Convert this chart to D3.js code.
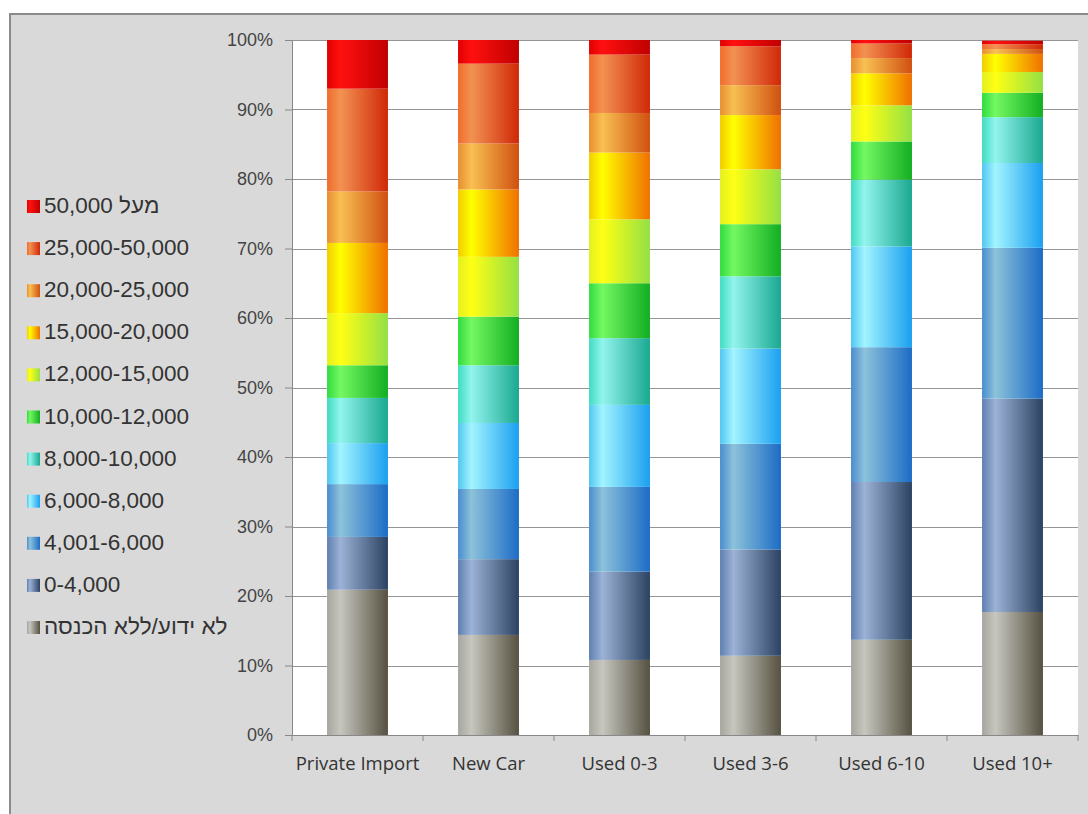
<!DOCTYPE html>
<html>
<head>
<meta charset="utf-8">
<script src="https://cdn.jsdelivr.net/npm/d3@7"></script>
<style>
html,body{margin:0;padding:0;background:#fff;}
svg{display:block;}
</style>
</head>
<body>
<svg id="chart" width="1088" height="814"></svg>
<script>
// ---------- data ----------
const categories = ["Private Import", "New Car", "Used 0-3", "Used 3-6", "Used 6-10", "Used 10+"];
const seriesNames = ["לא ידוע/ללא הכנסה", "0-4,000", "4,001-6,000", "6,000-8,000", "8,000-10,000",
  "10,000-12,000", "12,000-15,000", "15,000-20,000", "20,000-25,000", "25,000-50,000", "מעל 50,000"];
const unknownIncome = [20.9, 14.4, 10.8, 11.4, 13.7, 17.7];
const inc0_4000     = [7.6, 10.9, 12.7, 15.3, 22.7, 30.7];
const inc4001_6000  = [7.6, 10.1, 12.2, 15.2, 19.4, 21.7];
const inc6000_8000  = [5.9, 9.5, 11.8, 13.7, 14.5, 12.2];
const inc8000_10000 = [6.5, 8.3, 9.6, 10.4, 9.6, 6.6];
const inc10000_12000= [4.7, 7.0, 7.9, 7.5, 5.5, 3.5];
const inc12000_15000= [7.5, 8.6, 9.2, 7.9, 5.2, 3.0];
const inc15000_20000= [10.1, 9.7, 9.6, 7.8, 4.6, 2.6];
const inc20000_25000= [7.4, 6.6, 5.7, 4.3, 2.2, 0.7];
const inc25000_50000= [14.8, 11.5, 8.4, 5.6, 2.1, 0.7];
const over50000     = [7.0, 3.4, 2.1, 0.9, 0.5, 0.5];
const seriesValues = [unknownIncome, inc0_4000, inc4001_6000, inc6000_8000, inc8000_10000,
  inc10000_12000, inc12000_15000, inc15000_20000, inc20000_25000, inc25000_50000, over50000];
const yTicks = [0, 10, 20, 30, 40, 50, 60, 70, 80, 90, 100];

// gradient colours per series: [left, highlight, right]
const seriesColors = [
  ["#a6a59e", "#c6c6bf", "#565140"],
  ["#5f7fb0", "#9cb2d6", "#2b4262"],
  ["#4a8ccf", "#8cc2da", "#1c6cc6"],
  ["#50c6f0", "#a2f4ff", "#1a9ff0"],
  ["#40dcc0", "#92f4ee", "#1aa890"],
  ["#30dc40", "#74f862", "#12ae22"],
  ["#e2f020", "#ffff14", "#94e044"],
  ["#f2cc00", "#ffff00", "#f07000"],
  ["#e88e30", "#f8c052", "#d05010"],
  ["#f06c2c", "#f29252", "#d02808"],
  ["#e00000", "#ff1010", "#c00000"]
];

// ---------- layout ----------
const svg = d3.select("#chart");
const plot = {left: 292, right: 1078, top: 40, bottom: 735};

const defs = svg.append("defs");
seriesColors.forEach((c, i) => {
  const g = defs.append("linearGradient").attr("id", "g" + i)
    .attr("x1", "0%").attr("x2", "100%").attr("y1", "0%").attr("y2", "0%");
  g.append("stop").attr("offset", "0%").attr("stop-color", c[0]);
  g.append("stop").attr("offset", "22%").attr("stop-color", c[1]);
  g.append("stop").attr("offset", "100%").attr("stop-color", c[2]);
});

// panel
svg.append("rect").attr("x", 10).attr("y", 14).attr("width", 1100).attr("height", 820)
  .attr("fill", "#d9d9d9").attr("stroke", "#8a8a8a").attr("stroke-width", 2);

// plot area
svg.append("rect").attr("x", plot.left).attr("y", plot.top)
  .attr("width", plot.right - plot.left).attr("height", plot.bottom - plot.top).attr("fill", "#fff");

const x = d3.scaleBand().domain(categories).range([plot.left, plot.right])
  .paddingInner(0.535).paddingOuter(0.2675);
const xb = d3.scaleBand().domain(categories).range([plot.left, plot.right]).padding(0);
const y = d3.scaleLinear().domain([0, 100]).range([plot.bottom, plot.top]);

// gridlines
svg.append("g").selectAll("line").data(yTicks.filter(d => d > 0)).join("line")
  .attr("x1", plot.left).attr("x2", plot.right)
  .attr("y1", d => Math.round(y(d)) + 0.5).attr("y2", d => Math.round(y(d)) + 0.5)
  .attr("stroke", "#959595").attr("stroke-width", 1);

// y axis
const yAxis = svg.append("g").attr("transform", `translate(${plot.left},0)`)
  .call(d3.axisLeft(y).tickValues(yTicks).tickFormat(d => d + "%").tickSize(7).tickPadding(12));
yAxis.select(".domain").attr("stroke", "#888");
yAxis.selectAll(".tick line").attr("stroke", "#888");
yAxis.selectAll("text").attr("fill", "#444")
  .style("font-family", "'Liberation Sans', Arial, sans-serif").style("font-size", "18px");

// stacked bars
const table = categories.map((c, ci) => {
  const row = {cat: c};
  seriesNames.forEach((s, si) => row[s] = seriesValues[si][ci]);
  return row;
});
const stack = d3.stack().keys(seriesNames)(table);
svg.append("g").selectAll("g").data(stack).join("g")
  .attr("fill", (d, i) => `url(#g${i})`)
  .selectAll("rect").data(d => d).join("rect")
  .attr("x", d => x(d.data.cat))
  .attr("width", x.bandwidth())
  .attr("y", d => y(d[1]))
  .attr("height", d => y(d[0]) - y(d[1]));

// x axis
const xAxis = svg.append("g").attr("transform", `translate(0,${plot.bottom})`)
  .call(d3.axisBottom(xb).tickSize(0).tickPadding(22));
xAxis.select(".domain").attr("stroke", "#888");
xAxis.selectAll("text").attr("fill", "#333")
  .style("font-family", "'Open Sans', sans-serif").style("font-size", "18.5px");
svg.append("g").selectAll("line").data(d3.range(categories.length + 1)).join("line")
  .attr("x1", i => plot.left + i * xb.step()).attr("x2", i => plot.left + i * xb.step())
  .attr("y1", plot.bottom).attr("y2", plot.bottom + 6).attr("stroke", "#888");

// legend
const legendOrder = seriesNames.map((s, i) => i).reverse();
const lg = svg.append("g");
legendOrder.forEach((si, k) => {
  const base = 213 + k * 42.1;
  lg.append("rect").attr("x", 27).attr("y", base - 13).attr("width", 13).attr("height", 13)
    .attr("fill", `url(#g${si})`);
  lg.append("text").attr("x", 44).attr("y", base)
    .attr("fill", "#333")
    .style("font-family", "'Liberation Sans', Arial, sans-serif").style("font-size", "22.5px")
    .text(seriesNames[si]);
});
</script>
</body>
</html>
